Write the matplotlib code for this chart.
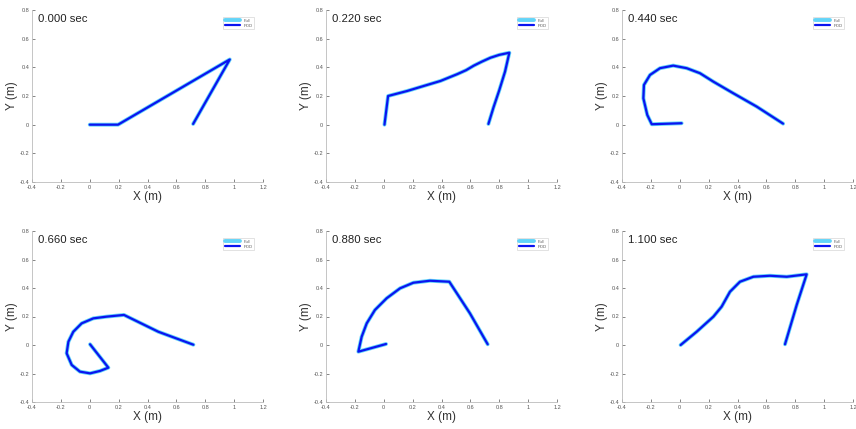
import matplotlib
matplotlib.use("Agg")
import matplotlib.pyplot as plt
from matplotlib.ticker import FuncFormatter

plt.rcParams["font.family"] = ["Liberation Sans", "DejaVu Sans"]

times = ["0.000 sec", "0.220 sec", "0.440 sec", "0.660 sec", "0.880 sec", "1.100 sec"]

x0 = [0.0, 0.196, 0.97, 0.716]
y0 = [0.0, 0.0, 0.455, 0.005]

x1 = [0.005, 0.03, 0.162, 0.277, 0.393, 0.508, 0.57, 0.624, 0.68, 0.739, 0.80, 0.87, 0.84, 0.80, 0.76, 0.725]
y1 = [0.0, 0.2, 0.235, 0.27, 0.305, 0.352, 0.38, 0.412, 0.44, 0.467, 0.487, 0.502, 0.37, 0.24, 0.12, 0.005]

x2 = [0.013, -0.194, -0.225, -0.252, -0.248, -0.206, -0.137, -0.045, 0.048, 0.14, 0.233, 0.371, 0.533, 0.716]
y2 = [0.01, 0.003, 0.068, 0.184, 0.277, 0.347, 0.394, 0.412, 0.394, 0.359, 0.3, 0.219, 0.126, 0.007]

x3 = [0.002, 0.129, 0.071, 0.002, -0.068, -0.125, -0.16, -0.148, -0.114, -0.056, 0.025, 0.117, 0.237, 0.475, 0.718]
y3 = [0.005, -0.159, -0.182, -0.199, -0.187, -0.14, -0.058, 0.023, 0.093, 0.152, 0.187, 0.199, 0.211, 0.093, 0.002]

x4 = [0.016, -0.176, -0.153, -0.118, -0.061, 0.02, 0.113, 0.205, 0.32, 0.454, 0.597, 0.72]
y4 = [0.007, -0.047, 0.058, 0.152, 0.246, 0.328, 0.398, 0.437, 0.451, 0.444, 0.222, 0.005]

x5 = [0.006, 0.117, 0.233, 0.29, 0.348, 0.417, 0.51, 0.625, 0.741, 0.879, 0.81, 0.729]
y5 = [0.0, 0.093, 0.199, 0.269, 0.374, 0.444, 0.479, 0.486, 0.479, 0.496, 0.281, 0.005]

xs = [x0, x1, x2, x3, x4, x5]
ys = [y0, y1, y2, y3, y4, y5]

xticks = [-0.4, -0.2, 0, 0.2, 0.4, 0.6, 0.8, 1.0, 1.2]
yticks = [-0.4, -0.2, 0, 0.2, 0.4, 0.6, 0.8]

W, H = 856, 429
fig = plt.figure(figsize=(W / 100, H / 100), dpi=100)

lefts = [32, 326, 622]
rows = [(10, 182), (231, 402)]
aw = 231

def fmt(v, pos):
    s = ("%.1f" % v)
    if s.endswith(".0"):
        s = s[:-2]
    if s == "-0":
        s = "0"
    return s

gray = "#555555"
for i in range(6):
    r, c = divmod(i, 3)
    top, bot = rows[r]
    ax = fig.add_axes([lefts[c] / W, 1 - bot / H, aw / W, (bot - top) / H])
    ax.plot(xs[i], ys[i], color="#62d4f8", lw=2.8, solid_joinstyle="round", solid_capstyle="round", label="Full")
    ax.plot(xs[i], ys[i], color="#0a14f0", lw=1.6, solid_joinstyle="round", solid_capstyle="round", label="POD")
    ax.set_xlim(-0.4, 1.2)
    ax.set_ylim(-0.4, 0.8)
    ax.set_xticks(xticks)
    ax.set_yticks(yticks)
    ax.xaxis.set_major_formatter(FuncFormatter(fmt))
    ax.yaxis.set_major_formatter(FuncFormatter(fmt))
    ax.tick_params(direction="in", length=2, width=0.5, labelsize=4, colors=gray, pad=2)
    for s in ["top", "right"]:
        ax.spines[s].set_visible(False)
    for s in ["left", "bottom"]:
        ax.spines[s].set_color("#bbbbbb")
        ax.spines[s].set_linewidth(0.6)
    ax.set_xlabel("X (m)", fontsize=8.5, color="#333333", labelpad=1)
    ax.set_ylabel("Y (m)", fontsize=8.5, color="#333333", labelpad=1)
    ax.text(-0.36, 0.775, times[i], fontsize=8.2, color="#222222", va="top", ha="left")
    leg = ax.legend(loc="upper right", fontsize=3, frameon=True, fancybox=False,
                    handlelength=3.6, borderpad=0.4, labelspacing=0.2,
                    bbox_to_anchor=(0.97, 0.97), edgecolor="#cccccc")
    leg.get_frame().set_linewidth(0.5)
    for t in leg.get_texts():
        t.set_color(gray)

fig.savefig("out.png", dpi=100)
